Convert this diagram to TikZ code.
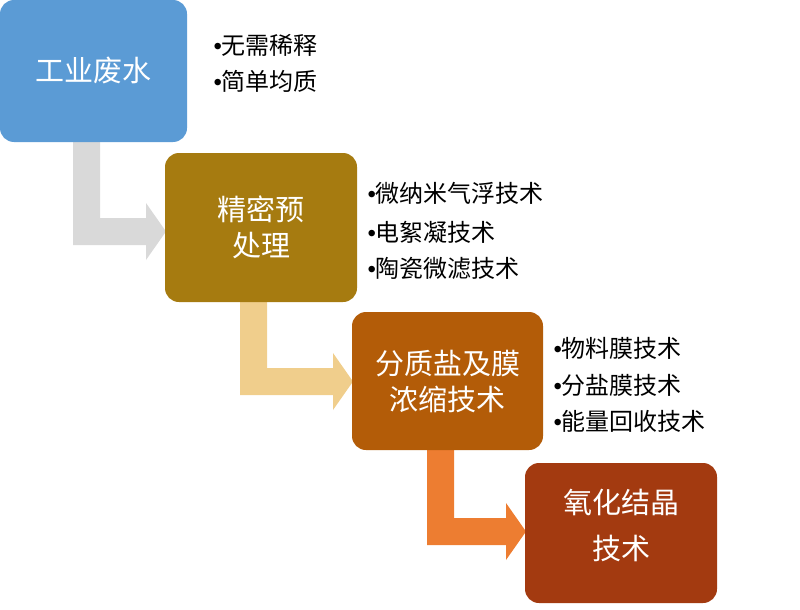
\documentclass[tikz,border=0pt]{standalone}
\usepackage{fontspec}
\setmainfont{Noto Sans CJK SC}
\newfontfamily\latinf{Liberation Sans}
\definecolor{c1}{HTML}{5B9BD5}
\definecolor{c2}{HTML}{A67B10}
\definecolor{c3}{HTML}{B35C08}
\definecolor{c4}{HTML}{A33A10}
\definecolor{a1}{HTML}{D9D9D9}
\definecolor{a2}{HTML}{F0CE8C}
\definecolor{a3}{HTML}{ED7D31}
\newcommand{\bentarrow}[5]{% x0 y0 y1 xtip color ; bar width 27
  \fill[#5] (#1,#2) -- (#1+27,#2) -- (#1+27,#3-27) -- (#4-20,#3-27) -- (#4-20,#3-42) -- (#4,#3-13.5) -- (#4-20,#3+15) -- (#4-20,#3) -- (#1,#3) -- cycle;}
\newcommand{\bu}{{\latinf•}}
\begin{document}
\begin{tikzpicture}[x=1pt,y=-1pt,
  box/.style={text=white,font=\fontsize{29}{36}\selectfont,align=center},
  bul/.style={anchor=west,font=\fontsize{24}{28}\selectfont}]
\useasboundingbox (0,0) rectangle (800,610);
\bentarrow{73}{142}{245}{166}{a1}
\bentarrow{240}{302}{395}{353}{a2}
\bentarrow{427}{450}{545}{526}{a3}
\fill[c1,rounded corners=14pt] (0,0) rectangle (187,142);
\fill[c2,rounded corners=14pt] (165,153) rectangle (357,302);
\fill[c3,rounded corners=14pt] (352,312) rectangle (543,450);
\fill[c4,rounded corners=14pt] (525,463) rectangle (717,603);
\node[box] (b1) at (93.5,71) {工业废水};
\node[box] (b2) at (261,227) {精密预\\处理};
\node[box] (b3) at (447.5,381) {分质盐及膜\\浓缩技术};
\node[box] (b4) at (621,525) {氧化结晶\\[10pt]技术};
\node[bul] (t1) at (210,45) {\bu 无需稀释};
\node[bul] (t2) at (210,81) {\bu 简单均质};
\node[bul] (t3) at (364,193) {\bu 微纳米气浮技术};
\node[bul] (t4) at (364,232) {\bu 电絮凝技术};
\node[bul] (t5) at (364,268) {\bu 陶瓷微滤技术};
\node[bul] (t6) at (550,348) {\bu 物料膜技术};
\node[bul] (t7) at (550,385) {\bu 分盐膜技术};
\node[bul] (t8) at (550,421) {\bu 能量回收技术};
\end{tikzpicture}
\end{document}
